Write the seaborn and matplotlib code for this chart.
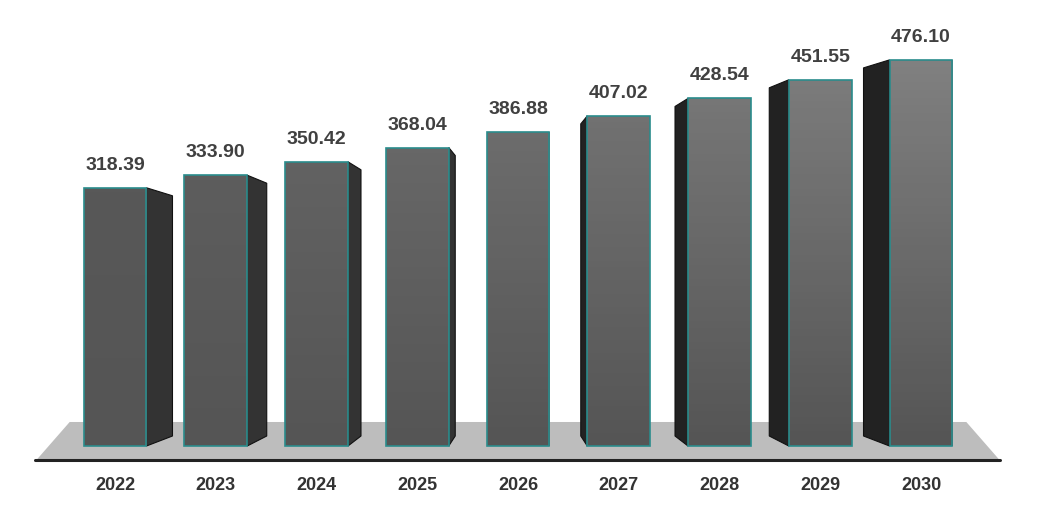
import matplotlib
matplotlib.use("Agg")
import matplotlib.pyplot as plt
import numpy as np
import pandas as pd
import seaborn as sns
from matplotlib.patches import Polygon

years = ["2022", "2023", "2024", "2025", "2026", "2027", "2028", "2029", "2030"]
values = [318.39, 333.90, 350.42, 368.04, 386.88, 407.02, 428.54, 451.55, 476.10]

sns.set_theme(style="white")
plt.rcParams["font.family"] = ["Liberation Sans", "DejaVu Sans"]

df = pd.DataFrame({"year": years, "value": values})
fig = plt.figure(figsize=(10.37, 5.16), dpi=100)
ax = fig.add_axes([0, 0, 1, 1])

upp = 1 / 0.811          # value units per pixel
xpp = 1 / 100.75         # category units per pixel

sns.barplot(data=df, x="year", y="value", color="#666666", width=0.625,
            edgecolor="#2a8c8c", linewidth=1.2, ax=ax, zorder=3)
bars = list(ax.containers[0])

# floor
floor = Polygon([(-0.45, 29.6), (8.45, 29.6), (8.78, -17.3), (-0.78, -17.3)],
                closed=True, facecolor="#bdbdbd", edgecolor="none", zorder=0)
ax.add_patch(floor)
ax.plot([-0.79, 8.78], [-17.3, -17.3], color="#222222", lw=2.2, zorder=1)

n = len(years)
mid = n // 2
for i, p in enumerate(bars):
    x0, w, h = p.get_x(), p.get_width(), p.get_height()
    # side face
    d = abs(i - mid) * 6.5 * xpp
    drop = 8 * upp
    back = 10 * upp
    if i < mid:
        xs = x0 + w
        pts = [(xs, h), (xs + d, h - drop), (xs + d, back), (xs, 0)]
        col = "#333333"
    else:
        xs = x0
        pts = [(xs, h), (xs - d, h - drop), (xs - d, back), (xs, 0)]
        col = "#222222"
    if d > 0:
        ax.add_patch(Polygon(pts, closed=True, facecolor=col, edgecolor="#111111",
                             lw=0.8, zorder=2))
    # front gradient
    top_c = 0x58 + int(i * 5)
    grad = np.linspace(top_c, 0x55, 50).reshape(-1, 1) / 255
    img = np.dstack([grad, grad, grad])
    im = ax.imshow(img, extent=[x0, x0 + w, 0, h], aspect="auto", zorder=3.5)
    im.set_clip_path(p)
    p.set_facecolor("none")
    p.set_zorder(4)
    ax.text(x0 + w / 2, h + 14 * upp, f"{values[i]:.2f}", ha="center", va="bottom",
            fontsize=14, fontweight="bold", color="#404040", zorder=5)
    ax.text(x0 + w / 2, -40 * upp, years[i], ha="center", va="center",
            fontsize=13, fontweight="bold", color="#333333", zorder=5)

ax.set_xlim(-115 * xpp, (1037 - 115) * xpp)
ax.set_ylim(-70 * upp, 446 * upp)
ax.axis("off")
fig.savefig("out.png", dpi=100, facecolor="white")
